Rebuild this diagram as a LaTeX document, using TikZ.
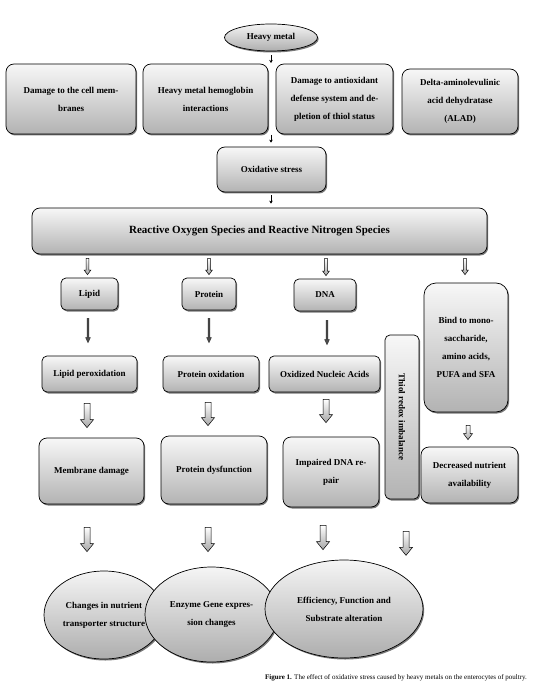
\documentclass[tikz,border=0pt]{standalone}
\usepackage{fontspec}
\setmainfont{Liberation Serif}
\usetikzlibrary{calc,shadows,shapes.geometric,arrows.meta}
\newcommand\boxfont{\bfseries\fontsize{9}{18}\selectfont}
\newcommand\blockarr[6]{%
  \path[#1] let \p1=#2, \p2=#3 in
    (\x1-#4,\y1) -- (\x1+#4,\y1) -- (\x1+#4,\y2+#6) -- (\x1+#5,\y2+#6)
    -- (\x1,\y2) -- (\x1-#5,\y2+#6) -- (\x1-#4,\y2+#6) -- cycle;}
\tikzset{
  every node/.style={inner sep=0pt},
  shad/.style={drop shadow={shadow xshift=1.2pt, shadow yshift=-1.5pt, fill=black!70, opacity=.75}},
  box/.style={draw=black, line width=0.7pt, rounded corners=8pt, top color=black!3, bottom color=black!30, shad, align=center, font=\boxfont},
  sbox/.style={box, rounded corners=5pt},
  oval/.style={ellipse, draw=black, line width=0.7pt, top color=black!4, bottom color=black!32, shad, align=center, font=\boxfont},
  thinarr/.style={draw=black, line width=0.7pt, -{Stealth[length=3pt,width=3.5pt]}},
  hollowarr/.style={draw=black, line width=0.5pt, top color=white, bottom color=black!35},
  darkarr/.style={draw=black!80, line width=0.4pt, fill=black!70},
}
\begin{document}
\begin{tikzpicture}[x=1pt,y=-1pt]
\useasboundingbox[fill=white] (0,0) rectangle (532,692);

% nodes
\node[oval, minimum width=93, minimum height=27] (hm) at (271,37.5) {Heavy metal};
\node[box, minimum width=130, minimum height=70] (d1) at (71,99) {Damage to the cell mem-\\branes};
\node[box, minimum width=125, minimum height=70] (d2) at (205.5,99) {Heavy metal hemoglobin\\interactions};
\node[box, minimum width=117, minimum height=70] (d3) at (334.5,99) {Damage to antioxidant\\defense system and de-\\pletion of thiol status};
\node[box, minimum width=116, minimum height=65] (d4) at (460,101.5) {Delta-aminolevulinic\\acid dehydratase\\(ALAD)};
\coordinate (rowtop) at (271,63);
\coordinate (rowbot) at (271,135);
\node[box, minimum width=109, minimum height=45] (ox) at (271.5,169.5) {Oxidative stress};
\node[box, minimum width=455, minimum height=46, font=\bfseries\fontsize{11}{13}\selectfont] (ros) at (259.5,231) {Reactive Oxygen Species and Reactive Nitrogen Species};

\node[sbox, minimum width=57, minimum height=32] (lip) at (89.5,294) {Lipid};
\node[sbox, minimum width=54, minimum height=32] (pro) at (209,294) {Protein};
\node[sbox, minimum width=62, minimum height=32] (dna) at (325,295) {DNA};
\node[box, minimum width=84, minimum height=129, rounded corners=12pt] (bind) at (466,347.5) {Bind to mono-\\saccharide,\\amino acids,\\PUFA and SFA};
\node[sbox, minimum width=34, minimum height=164] (thiol) at (402,417) {};
\node[rotate=-90, font=\boxfont] (thioltxt) at (thiol.center) {Thiol redox imbalance};

\node[sbox, minimum width=95, minimum height=36] (lp) at (89.5,374) {Lipid peroxidation};
\node[sbox, minimum width=96, minimum height=36] (po) at (211,374) {Protein oxidation};
\node[sbox, minimum width=111, minimum height=36] (ona) at (324.5,374) {Oxidized Nucleic Acids};

\node[box, minimum width=105, minimum height=66] (md) at (91.5,471) {Membrane damage};
\node[box, minimum width=106, minimum height=68] (pd) at (214,470) {Protein dysfunction};
\node[box, minimum width=96, minimum height=70] (idr) at (331,472) {Impaired DNA re-\\pair};
\node[box, minimum width=97, minimum height=56] (dec) at (469.5,475) {Decreased nutrient\\availability};

\node[oval, minimum width=120, minimum height=88] (e1) at (104,615) {Changes in nutrient\\transporter structure};
\node[oval, minimum width=133, minimum height=95] (e2) at (211.5,614.5) {Enzyme Gene expres-\\sion changes};
\node[oval, minimum width=158, minimum height=98] (e3) at (344,609) {Efficiency, Function and\\Substrate alteration};

% small arrows
\draw[thinarr] ($(hm.south)+(0,4)$) -- (rowtop);
\draw[thinarr] (rowbot) -- ($(rowbot |- ox.north)+(0,-4)$);
\draw[thinarr] ($(rowbot |- ox.south)+(0,3)$) -- ($(rowbot |- ros.north)+(0,-4)$);

% ROS -> level 1 (thin hollow)
\blockarr{hollowarr}{($(lip.north |- ros.south)+(-2,4)$)}{($(lip.north)+(0,-3)$)}{1.3pt}{3.3pt}{4.5pt}
\blockarr{hollowarr}{($(pro.north |- ros.south)+(0,4)$)}{($(pro.north)+(0,-3)$)}{1.3pt}{3.3pt}{4.5pt}
\blockarr{hollowarr}{($(dna.north |- ros.south)+(1,4)$)}{($(dna.north)+(0,-3)$)}{1.3pt}{3.3pt}{4.5pt}
\blockarr{hollowarr}{($(bind.north |- ros.south)+(-1,4)$)}{($(bind.north)+(0,-8)$)}{1.3pt}{3.3pt}{4.5pt}

% level 1 -> level 2 (dark)
\blockarr{darkarr}{($(lip.south)+(-1.5,8)$)}{($(lp.north)+(0,-13)$)}{0.9pt}{2.4pt}{5pt}
\blockarr{darkarr}{($(pro.south)+(0,8)$)}{($(po.north)+(0,-13)$)}{0.9pt}{2.4pt}{5pt}
\blockarr{darkarr}{($(dna.south)+(2,9)$)}{($(ona.north)+(0,-11)$)}{0.9pt}{2.4pt}{5pt}

% level 2 -> level 3 (hollow)
\blockarr{hollowarr}{($(lp.south)+(-2.5,11)$)}{($(md.north)+(0,-10)$)}{3pt}{6.5pt}{8pt}
\blockarr{hollowarr}{($(po.south)+(-3,10)$)}{($(pd.north)+(0,-10)$)}{3pt}{6.5pt}{8pt}
\blockarr{hollowarr}{($(ona.south)+(1.5,7)$)}{($(idr.north)+(0,-14)$)}{3pt}{6.5pt}{8pt}
\blockarr{hollowarr}{($(bind.south)+(2,13)$)}{($(dec.north)+(0,-7)$)}{2pt}{4.5pt}{6pt}

% level 3 -> ellipses
\blockarr{hollowarr}{($(md.south)+(-4.5,23)$)}{($(e1.north)+(0,-19)$)}{3pt}{6.5pt}{8pt}
\blockarr{hollowarr}{($(pd.south)+(-6,23)$)}{($(e2.north)+(0,-15)$)}{3pt}{6.5pt}{8pt}
\blockarr{hollowarr}{($(idr.south)+(-8,18)$)}{($(e3.north)+(0,-10)$)}{3pt}{6.5pt}{8pt}
\blockarr{hollowarr}{($(thiol.south)+(4,32)$)}{($(thiol.south)+(0,56)$)}{3pt}{6.5pt}{8pt}

% caption
\node[anchor=west, font=\fontsize{7}{8}\selectfont] (cap) at (265,678) {\textbf{Figure 1.} The effect of oxidative stress caused by heavy metals on the enterocytes of poultry.};
\end{tikzpicture}
\end{document}
